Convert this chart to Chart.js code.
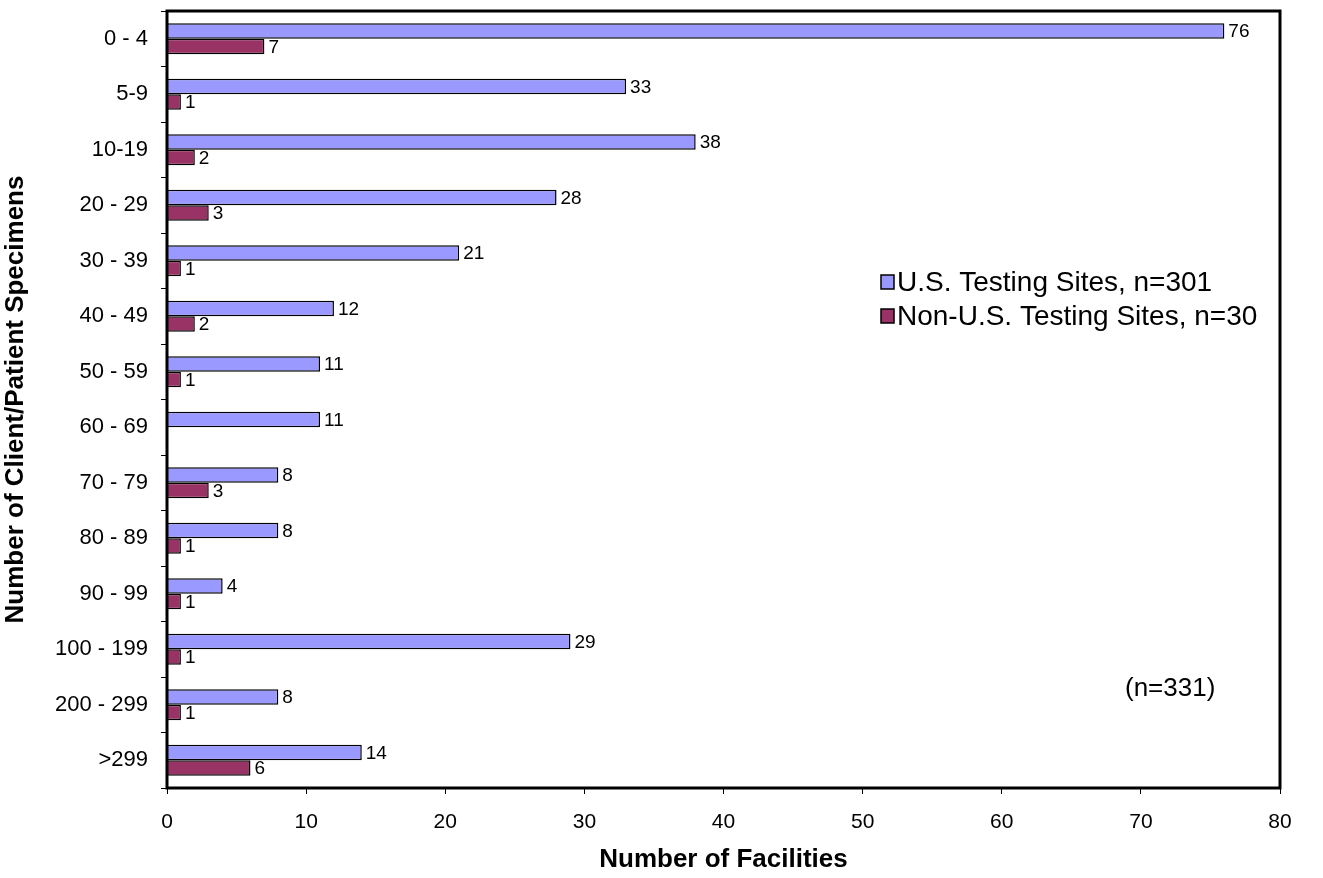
<!DOCTYPE html>
<html>
<head>
<meta charset="utf-8">
<script src="https://cdn.jsdelivr.net/npm/chart.js@4/dist/chart.umd.min.js"></script>
<style>
  html, body { margin: 0; padding: 0; background: #fff; }
  #wrap { width: 1323px; height: 878px; }
</style>
</head>
<body>
<div id="wrap"><canvas id="chart" width="1323" height="878"></canvas></div>
<script>
// ===== データ =====
const categories = ['0 - 4', '5-9', '10-19', '20 - 29', '30 - 39', '40 - 49', '50 - 59',
    '60 - 69', '70 - 79', '80 - 89', '90 - 99', '100 - 199', '200 - 299', '>299'];
const usSites = [76, 33, 38, 28, 21, 12, 11, 11, 8, 8, 4, 29, 8, 14];
const nonUsSites = [7, 1, 2, 3, 1, 2, 1, 0, 3, 1, 1, 1, 1, 6];
const seriesNames = ['U.S. Testing Sites, n=301', 'Non-U.S. Testing Sites, n=30'];
const xTicks = [0, 10, 20, 30, 40, 50, 60, 70, 80];
const noteText = '(n=331)';

const FONT = 'Arial, "Liberation Sans", sans-serif';

// ===== 値ラベル・枠線・凡例 =====
const extras = {
    id: 'extras',
    afterDatasetsDraw(chart) {
        const ctx = chart.ctx;
        const area = chart.chartArea;
        ctx.save();
        // 値ラベル（0 は表示しない）
        ctx.font = '19px ' + FONT;
        ctx.fillStyle = '#000';
        ctx.textBaseline = 'middle';
        ctx.textAlign = 'left';
        chart.data.datasets.forEach((ds, di) => {
            const meta = chart.getDatasetMeta(di);
            meta.data.forEach((bar, i) => {
                if (!ds.data[i]) return;
                ctx.fillText(String(ds.data[i]), bar.x + 4, bar.y + 1);
            });
        });
        // 枠線
        ctx.strokeStyle = '#000';
        ctx.lineWidth = 3;
        ctx.strokeRect(area.left, area.top, area.right - area.left, area.bottom - area.top);
        // 凡例
        ctx.font = '28px ' + FONT;
        chart.data.datasets.forEach((ds, di) => {
            const y = 282 + di * 34;
            ctx.fillStyle = ds.backgroundColor;
            ctx.fillRect(881, y - 7, 13, 14);
            ctx.lineWidth = 1.5;
            ctx.strokeRect(881, y - 7, 13, 14);
            ctx.fillStyle = '#000';
            ctx.fillText(ds.label, 897, y + 1);
        });
        ctx.font = '26px ' + FONT;
        ctx.fillText(noteText, 1125, 689);
        ctx.restore();
    }
};

const ctx = document.getElementById('chart').getContext('2d');
new Chart(ctx, {
    type: 'bar',
    data: {
        labels: categories,
        datasets: [
            { label: seriesNames[0], data: usSites, backgroundColor: '#9999FF',
              borderColor: '#000', borderWidth: 1.5 },
            { label: seriesNames[1], data: nonUsSites, backgroundColor: '#993366',
              borderColor: '#000', borderWidth: 1.5 }
        ]
    },
    options: {
        indexAxis: 'y',
        responsive: false,
        animation: false,
        categoryPercentage: 0.56,
        barPercentage: 1.0,
        layout: { padding: { top: 11, right: 43, left: 0, bottom: 0 } },
        plugins: {
            legend: { display: false },
            tooltip: { enabled: false }
        },
        scales: {
            x: {
                min: 0,
                max: 80,
                afterBuildTicks: scale => { scale.ticks = xTicks.map(v => ({ value: v })); },
                ticks: { color: '#000', font: { family: FONT, size: 21 }, padding: 16, maxRotation: 0 },
                grid: { drawOnChartArea: false, color: '#000', tickLength: 6 },
                border: { display: false },
                title: { display: true, text: 'Number of Facilities', color: '#000',
                         font: { family: FONT, size: 26, weight: 'bold' }, padding: { top: 0, bottom: 3 } },
                afterFit: scale => { scale.height = 90; }
            },
            y: {
                ticks: { color: '#000', font: { family: FONT, size: 22 }, padding: 13, autoSkip: false },
                grid: { drawOnChartArea: false, color: '#000', tickLength: 6, offset: true },
                border: { display: false },
                title: { display: true, text: 'Number of Client/Patient Specimens', color: '#000',
                         font: { family: FONT, size: 26, weight: 'bold' }, padding: { top: 0, bottom: 0 } },
                afterFit: scale => {
                    scale.width = 167;
                    scale.paddingTop = 0;
                    scale.paddingBottom = 0;
                }
            }
        }
    },
    plugins: [extras]
});
</script>
</body>
</html>
